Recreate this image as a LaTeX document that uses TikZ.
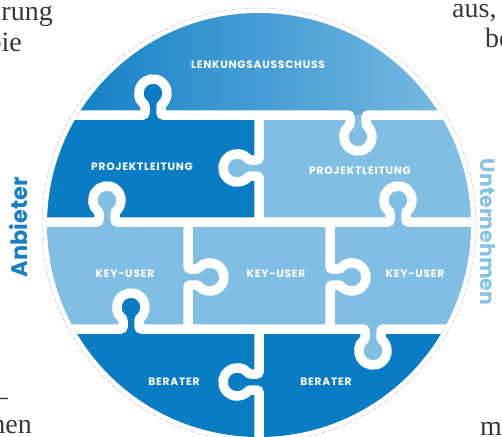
\documentclass[tikz,border=0pt]{standalone}
\usepackage{fontspec}
\setmainfont{Liberation Serif}
\newfontfamily\labfont[LetterSpace=7]{Poppins}
\newfontfamily\sidefont{Poppins}
\definecolor{dk}{HTML}{0A7CC4}
\definecolor{lt}{HTML}{80BFE3}
\definecolor{sideA}{HTML}{1A80C6}
\definecolor{sideU}{HTML}{86C2E6}
\definecolor{txt}{HTML}{383838}
% knob path pieces (image coordinates, y downwards)
\newcommand*\kU[2]{-- (#1-8,#2) -- ++(0,-10.51) arc(124.85:415.15:14) -- (#1+8,#2)}
\newcommand*\kD[2]{-- (#1-8,#2) -- ++(0,10.51) arc(235.15:-55.15:14) -- (#1+8,#2)}
\newcommand*\kL[2]{-- (#1,#2-8) -- ++(-10.51,0) arc(-34.85:-325.15:14) -- (#1,#2+8)}
\newcommand*\kR[2]{-- (#1,#2-8) -- ++(10.51,0) arc(214.85:505.15:14) -- (#1,#2+8)}
\tikzset{
  gap/.style={white, line width=9.5pt, rounded corners=2.5pt},
  lab/.style={text=white, font=\labfont\bfseries\fontsize{10.7}{12}\selectfont, inner sep=0pt, anchor=base},
  bgtext/.style={text=txt, font=\fontsize{28}{30}\selectfont, inner sep=0pt},
  side/.style={font=\sidefont\bfseries\fontsize{22.5}{24}\selectfont, inner sep=0pt}
}
\begin{document}
\begin{tikzpicture}[x=1pt,y=1pt,yscale=-1]
\useasboundingbox (0,0) rectangle (502,436);
\clip (0,0) rectangle (502,436);
% background page text fragments
\node[bgtext, anchor=base east] (t1) at (53,21) {rung};
\node[bgtext, anchor=base east] (t2) at (22,52) {bie};
\node[bgtext, anchor=base west] (t3) at (452,18) {aus,};
\node[bgtext, anchor=base west] (t4) at (485,47) {be};
\node[bgtext, anchor=base east] (t5) at (8,405) {–};
\node[bgtext, anchor=base east] (t6) at (32,433) {hen};
\node[bgtext, anchor=base west] (t7) at (480,435) {m};
% outer dashed ring
\draw[black!22, line width=0.5pt, dash pattern=on 5pt off 2pt] (259,225) circle (217);
\begin{scope}
\clip (259,225) circle (212);
\shade[left color=dk, right color=lt] (40,0) rectangle (480,115) (358,115) \kD{358}{115} -- cycle;
\fill[dk] (40,115) rectangle (259,222);
\fill[lt] (259,115) rectangle (480,222);
\fill[lt] (40,222) rectangle (480,329);
\fill[dk] (40,329) rectangle (480,440);
% knob interiors
\fill[dk] (153,115) \kU{153}{115} -- cycle;
\fill[lt] (259,168) \kL{259}{168} -- cycle;
\fill[lt] (107,222) \kU{107}{222} -- cycle;
\fill[lt] (398,222) \kU{398}{222} -- cycle;
\fill[dk] (131,329) \kU{131}{329} -- cycle;
\fill[lt] (373,329) \kD{373}{329} -- cycle;
\fill[dk] (259,382) \kL{259}{382} -- cycle;
% white joints
\draw[gap] (30,115) \kU{153}{115} \kD{358}{115} -- (490,115);
\draw[gap] (30,222) \kU{107}{222} \kU{398}{222} -- (490,222);
\draw[gap] (30,329) \kU{131}{329} \kD{373}{329} -- (490,329);
\draw[gap] (259,115) \kL{259}{168} -- (259,222);
\draw[gap] (188,222) \kR{188}{277} -- (188,329);
\draw[gap] (330,222) \kR{330}{277} -- (330,329);
\draw[gap] (259,329) \kL{259}{382} -- (259,445);
\end{scope}
% labels
\node[lab] (lenk) at (258,68.8) {LENKUNGSAUSSCHUSS};
\node[lab] (plA) at (142,170.8) {PROJEKTLEITUNG};
\node[lab] (plU) at (360,174.8) {PROJEKTLEITUNG};
\node[lab] (kuA) at (125,277.8) {KEY-USER};
\node[lab] (kuM) at (276,277.8) {KEY-USER};
\node[lab] (kuU) at (415,277.8) {KEY-USER};
\node[lab] (beA) at (174,385.8) {BERATER};
\node[lab] (beU) at (326,385.8) {BERATER};
% side captions
\node[side, text=sideA, rotate=90] (anb) at (19,227) {Anbieter};
\node[side, text=sideU, rotate=-90, font=\sidefont\bfseries\fontsize{20.5}{22}\selectfont] (unt) at (488,232) {Unternehmen};
\end{tikzpicture}
\end{document}
